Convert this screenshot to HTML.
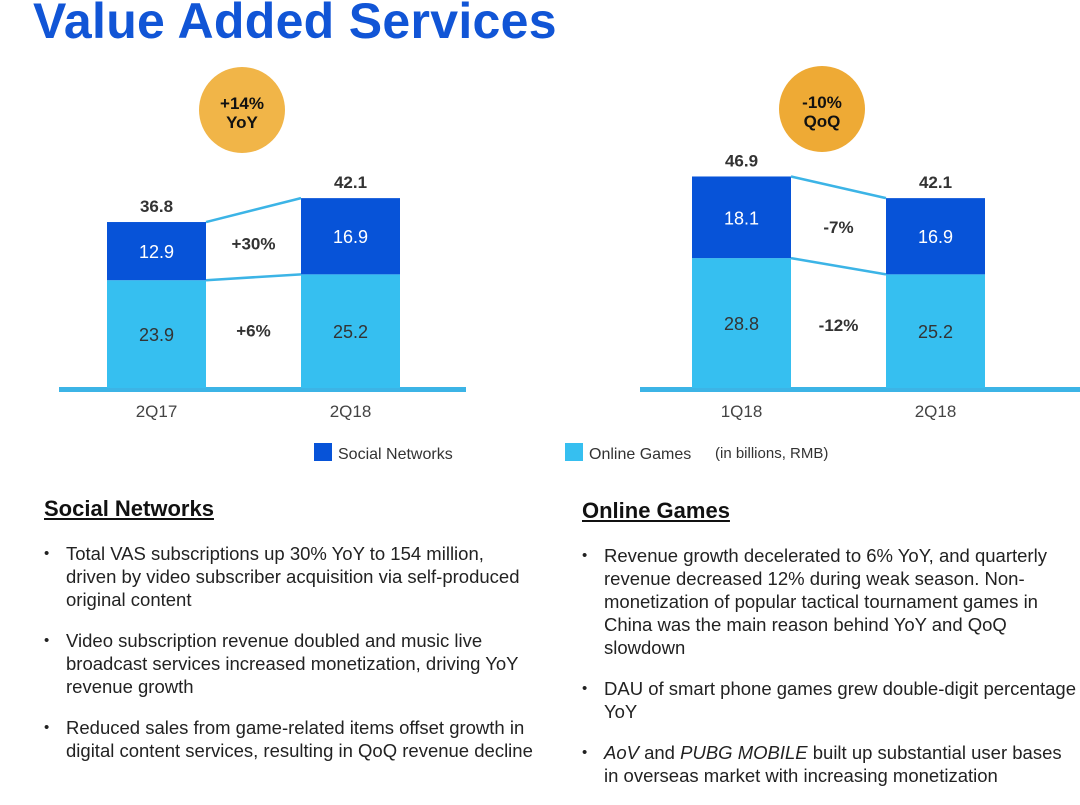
<!DOCTYPE html>
<html><head><meta charset="utf-8">
<style>
body{margin:0;width:1080px;height:796px;background:#fff;overflow:hidden;font-family:"Liberation Sans",Arial,sans-serif;position:relative}
.title{position:absolute;left:33px;top:-8px;font-size:50px;font-weight:bold;color:#1155d6;letter-spacing:0.3px}
.sec{position:absolute;color:#222}
.sec h3{margin:0 0 20px 0;font-size:22px;font-weight:bold;text-decoration:underline;color:#111}
.sec ul{margin:0;padding:0;list-style:none}
.sec li{position:relative;padding-left:22px;font-size:18.5px;line-height:23px;margin-bottom:18px}
.sec li:before{content:"•";position:absolute;left:0;top:0;font-size:15px}
</style></head><body>
<div class="title">Value Added Services</div>
<svg id="chart" width="1080" height="470" style="position:absolute;left:0;top:0"></svg>
<div class="sec" style="left:44px;top:496px;width:490px">
<h3>Social Networks</h3>
<ul>
<li>Total VAS subscriptions up 30% YoY to 154 million, driven by video subscriber acquisition via self-produced original content</li>
<li>Video subscription revenue doubled and music live broadcast services increased monetization, driving YoY revenue growth</li>
<li>Reduced sales from game-related items offset growth in digital content services, resulting in QoQ revenue decline</li>
</ul></div>
<div class="sec" style="left:582px;top:498px;width:495px">
<h3>Online Games</h3>
<ul>
<li>Revenue growth decelerated to 6% YoY, and quarterly revenue decreased 12% during weak season. Non-monetization of popular tactical tournament games in China was the main reason behind YoY and QoQ slowdown</li>
<li>DAU of smart phone games grew double-digit percentage YoY</li>
<li><i>AoV</i> and <i>PUBG MOBILE</i> built up substantial user bases in overseas market with increasing monetization</li>
</ul></div>
<script>
const leftCats=["2Q17","2Q18"];
const leftGames=[23.9,25.2];
const leftSocial=[12.9,16.9];
const leftTotals=["36.8","42.1"];
const leftChanges=["+30%","+6%"];
const rightCats=["1Q18","2Q18"];
const rightGames=[28.8,25.2];
const rightSocial=[18.1,16.9];
const rightTotals=["46.9","42.1"];
const rightChanges=["-7%","-12%"];
const NS="http://www.w3.org/2000/svg";
const svg=document.getElementById("chart");
const base=388, k=4.51, DARK="#0753d8", LIGHT="#36bff0", LINE="#3cb4e6";
function y(v){return base-v*k;}
function el(t,a,txt){const e=document.createElementNS(NS,t);for(const n in a)e.setAttribute(n,a[n]);if(txt!==undefined)e.textContent=txt;svg.appendChild(e);return e;}
function chart(id,xs,cats,games,social,totals,changes,axis,badge){
  const w=99;
  const a=el("rect",{x:axis[0],y:base-1,width:axis[1]-axis[0],height:5,fill:LINE});
  
  
  const c=el("circle",{cx:badge[0],cy:badge[1],r:43,fill:badge[4]});
  
  
  const t1=el("text",{x:badge[0],y:badge[1]-1,"text-anchor":"middle","font-size":17,"font-weight":"bold",fill:"#111"},badge[2]);
  
  
  const t2=el("text",{x:badge[0],y:badge[1]+18,"text-anchor":"middle","font-size":17,"font-weight":"bold",fill:"#111"},badge[3]);
  
  
  for(let i=0;i<2;i++){
    const x=xs[i], g=games[i], s=social[i];
    const r1=el("rect",{x:x,y:y(g),width:w,height:g*k,fill:LIGHT});
    
    
    const r2=el("rect",{x:x,y:y(g+s),width:w,height:s*k,fill:DARK});
    
    
    const l1=el("text",{x:x+w/2,y:y(g/2)+7,"text-anchor":"middle","font-size":18,fill:"#333"},g.toFixed(1));
    
    
    const l2=el("text",{x:x+w/2,y:y(g+s/2)+7,"text-anchor":"middle","font-size":18,fill:"#fff"},s.toFixed(1));
    
    
    const l3=el("text",{x:x+w/2,y:y(g+s)-10,"text-anchor":"middle","font-size":17,"font-weight":"bold",fill:"#333"},totals[i]);
    
    
    const l4=el("text",{x:x+w/2,y:base+29,"text-anchor":"middle","font-size":17,fill:"#444"},cats[i]);
    
    
  }
  const x0=xs[0]+w, x1=xs[1];
  const ln=[[games[0]+social[0],games[1]+social[1]],[games[0],games[1]]];
  ln.forEach((p,j)=>{
    const L=el("line",{x1:x0,y1:y(p[0]),x2:x1,y2:y(p[1]),stroke:LINE,"stroke-width":2.5});
    
    
  });
  const mx=(x0+x1)/2;
  const ty=(y(games[0]+social[0])+y(games[1]+social[1])+y(games[0])+y(games[1]))/4;
  const c1=el("text",{x:mx,y:ty+6,"text-anchor":"middle","font-size":17,"font-weight":"bold",fill:"#333"},changes[0]);
  
  
  const gy=(y(games[0])+y(games[1]))/2;
  const c2=el("text",{x:mx,y:(gy+base)/2+4,"text-anchor":"middle","font-size":17,"font-weight":"bold",fill:"#333"},changes[1]);
  
  
}
chart("yoy",[107,301],leftCats,leftGames,leftSocial,leftTotals,leftChanges,[59,466],[242,110,"+14%","YoY","#f1b548"]);
chart("qoq",[692,886],rightCats,rightGames,rightSocial,rightTotals,rightChanges,[640,1080],[822,109,"-10%","QoQ","#eeaa35"]);
const s1=el("rect",{x:314,y:443,width:18,height:18,fill:DARK});


const lt1=el("text",{x:338,y:459,"font-size":16,fill:"#333"},"Social Networks");


const s2=el("rect",{x:565,y:443,width:18,height:18,fill:LIGHT});


const lt2=el("text",{x:589,y:459,"font-size":16,fill:"#333"},"Online Games");


const un=el("text",{x:715,y:458,"font-size":15,fill:"#333"},"(in billions, RMB)");


</script>
</body></html>
